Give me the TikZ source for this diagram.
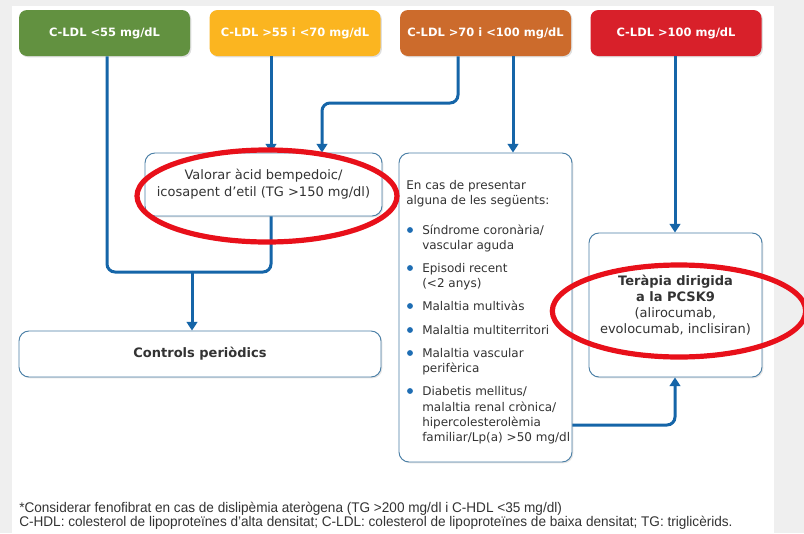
\documentclass[tikz,border=0pt]{standalone}
\usepackage{fontspec}
\setmainfont{DejaVu Sans}
\newfontfamily\footfont[FakeStretch=0.97]{Liberation Sans}
\usetikzlibrary{arrows.meta,shadows,calc}
\definecolor{bggray}{HTML}{EFEFEF}
\definecolor{cgreen}{HTML}{629140}
\definecolor{cyellow}{HTML}{FBB520}
\definecolor{corange}{HTML}{CC6B2C}
\definecolor{cred}{HTML}{D8202A}
\definecolor{cblue}{HTML}{1565A8}
\definecolor{cborder}{HTML}{4A7FA6}
\definecolor{cbul}{HTML}{1E6DB3}
\definecolor{ctext}{HTML}{333333}
\definecolor{annred}{HTML}{E8101A}
\begin{document}
\begin{tikzpicture}[x=0.75pt,y=-0.75pt,
  topbox/.style={rounded corners=6pt, minimum width=128.25pt, minimum height=34.5pt, inner sep=0pt,
    text=white, font=\bfseries\fontsize{8.6}{11}\selectfont,
    drop shadow={shadow xshift=1pt, shadow yshift=-1pt, opacity=0.25}},
  whitebox/.style={draw=cborder, line width=0.7pt, fill=white, rounded corners=7.5pt, inner sep=0pt,
    text=ctext, align=center,
    drop shadow={shadow xshift=1pt, shadow yshift=-1pt, opacity=0.2}},
  conn/.style={draw=cblue, line width=2.25pt, rounded corners=6pt},
  arr/.style={conn, -{Triangle[width=8pt,length=6.5pt]}},
  ann/.style={draw=annred, line width=3.9pt},
  lst/.style={anchor=base west, inner sep=0pt, text=ctext, font=\fontsize{9}{11}\selectfont},
  foot/.style={anchor=base west, inner sep=0pt, text=ctext, font=\footfont\fontsize{10.5}{12}\selectfont}
]
\useasboundingbox (0,0) rectangle (804,533);
\fill[bggray] (0,0) rectangle (804,533);
\fill[white] (12,6) rectangle (774,533);

% top boxes
\node[topbox, fill=cgreen] (g) at (104.5,33) {C-LDL <55 mg/dL};
\node[topbox, fill=cyellow] (y) at (295,33) {C-LDL >55 i <70 mg/dL};
\node[topbox, fill=corange] (o) at (485.5,33) {C-LDL >70 i <100 mg/dL};
\node[topbox, fill=cred] (r) at (676,33) {C-LDL >100 mg/dL};

% white boxes
\node[whitebox, minimum width=177.75pt, minimum height=47.25pt, font=\fontsize{9.75}{12.75}\selectfont]
  (val) at (263.5,184.5) {Valorar àcid bempedoic/\\icosapent d’etil (TG >150 mg/dl)};
\node[whitebox, minimum width=129.75pt, minimum height=231.75pt] (list) at (485.5,307.5) {};
\node[whitebox, minimum width=129.75pt, minimum height=108pt, font=\fontsize{9.75}{12}\selectfont]
  (ter) at (675.5,305) {\textbf{Teràpia dirigida}\\\textbf{a la PCSK9}\\(alirocumab,\\evolocumab, inclisiran)};
\node[whitebox, minimum width=271.5pt, minimum height=34.5pt, font=\bfseries\fontsize{9.75}{12}\selectfont]
  (ctrl) at (200,354) {Controls periòdics};

% list text
\node[lst] (h1) at (406,189) {En cas de presentar};
\node[lst] (h2) at (406,204) {alguna de les següents:};
\node[lst] (a1) at (422,234) {Síndrome coronària/};
\node[lst] (a2) at (422,249) {vascular aguda};
\node[lst] (b1) at (422,272) {Episodi recent};
\node[lst] (b2) at (422,287) {(<2 anys)};
\node[lst] (c1) at (422,310) {Malaltia multivàs};
\node[lst] (d1) at (422,334) {Malaltia multiterritori};
\node[lst] (e1) at (422,357) {Malaltia vascular};
\node[lst] (e2) at (422,372) {perifèrica};
\node[lst] (f1) at (422,395) {Diabetis mellitus/};
\node[lst] (f2) at (422,411) {malaltia renal crònica/};
\node[lst] (f3) at (422,426) {hipercolesterolèmia};
\node[lst] (f4) at (422,441) {familiar/Lp(a) >50 mg/dl};
\foreach \yy in {230,268,306,330,353,391}{
  \fill[cbul] (410,\yy) circle [radius=2.2pt];
}

% junction coordinates
\coordinate (jl) at (107,272);
\coordinate (jr) at (271,272);
\coordinate (jm) at (192,272);
\coordinate (ob) at (458,103);
\coordinate (vb) at (322,103);
\coordinate (ox) at (513,0);
\coordinate (lt) at (675,425);

% connectors
\draw[conn] (g.south -| jl) -- (jl) -- (jm);
\draw[conn] (val.south -| jr) -- (jr) -- (jm);
\draw[arr] (jm) -- (ctrl.north -| jm);
\draw[arr] (y.south -| jr) -- (val.north -| jr);
\draw[arr] (o.south -| ob) -- (ob) -- (vb) -- (val.north -| vb);
\draw[arr] (o.south -| ox) -- (list.north -| ox);
\draw[arr] (r.south -| lt) -- (ter.north -| lt);
\draw[arr] (list.east |- lt) -- (lt) -- (ter.south -| lt);

% footnotes
\node[foot] (fn1) at (19,512) {*Considerar fenofibrat en cas de dislipèmia aterògena (TG >200 mg/dl i C-HDL <35 mg/dl)};
\node[foot] (fn2) at (19,526) {C-HDL: colesterol de lipoproteïnes d’alta densitat; C-LDL: colesterol de lipoproteïnes de baixa densitat; TG: triglicèrids.};

% red annotation ellipses
\draw[ann] (267,196) ellipse [x radius=97.5pt, y radius=34.5pt];
\draw[ann] (679,311) ellipse [x radius=95pt, y radius=34.5pt];
\end{tikzpicture}
\end{document}
